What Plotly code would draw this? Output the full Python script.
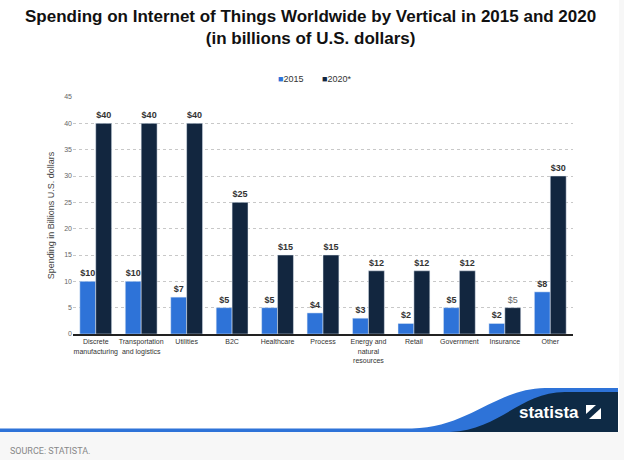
import plotly.graph_objects as go

categories = ["Discrete<br>manufacturing", "Transportation<br>and logistics", "Utilities", "B2C",
              "Healthcare", "Process", "Energy and<br>natural<br>resources", "Retail",
              "Government", "Insurance", "Other"]
values_2015 = [10, 10, 7, 5, 5, 4, 3, 2, 5, 2, 8]
values_2020 = [40, 40, 40, 25, 15, 15, 12, 12, 12, 5, 30]
series_names = ["2015", "2020*"]
colors = ["#2e73d8", "#12263f"]

W, H = 624, 460
L, R, T, B = 73, 51, 97, 126
PW, PH = W - L - R, H - T - B


def px(x):
    return (x - L) / PW


def py(y):
    return (H - B - y) / PH


def lab(v, bold=True):
    return f"<b>${v}</b>" if bold else f"${v}"


text_2015 = [lab(v) for v in values_2015]
text_2020 = [lab(v, bold=(c != "Insurance")) for v, c in zip(values_2020, categories)]
color_2020 = ["#666" if c == "Insurance" else "#333" for c in categories]

fig = go.Figure()
fig.add_trace(go.Bar(x=categories, y=values_2015, name=series_names[0], marker_color=colors[0],
                     text=text_2015, textposition="outside", cliponaxis=False,
                     constraintext="none", textfont=dict(size=9, color="#333"),
                     showlegend=False))
fig.add_trace(go.Bar(x=categories, y=values_2020, name=series_names[1], marker_color=colors[1],
                     text=text_2020, textposition="outside", cliponaxis=False,
                     constraintext="none", textfont=dict(size=9, color=color_2020),
                     showlegend=False))
for i, (n, c) in enumerate(zip(series_names, colors)):
    fig.add_trace(go.Scatter(x=[None], y=[None], mode="markers",
                             name=f'<span style="color:{c}">■</span>{n}',
                             legend="legend" if i == 0 else "legend2",
                             marker=dict(symbol="square", size=6, color="rgba(0,0,0,0)")))

shapes = []
shapes.append(dict(type="rect", xref="paper", yref="paper", x0=px(0), x1=px(W), y0=py(432), y1=py(H),
                   fillcolor="#f7f7f7", line_width=0, layer="below"))
shapes.append(dict(type="rect", xref="paper", yref="paper", x0=px(619), x1=px(W), y0=py(0), y1=py(432),
                   fillcolor="#f7f7f7", line_width=0, layer="below"))


def P(x, y):
    return f"{px(x):.5f},{py(y):.5f}"


blue_path = (f"M{P(0,428.5)} L{P(412,428.5)} C{P(470,427)} {P(495,389)} {P(545,388)} "
             f"L{P(618,388)} L{P(618,432)} L{P(0,432)} Z")
navy_path = (f"M{P(450,432)} C{P(500,430)} {P(520,392)} {P(565,392)} "
             f"L{P(618,392)} L{P(618,432)} Z")
shapes.append(dict(type="path", xref="paper", yref="paper", path=blue_path,
                   fillcolor="#2e73d8", line_width=0))
shapes.append(dict(type="path", xref="paper", yref="paper", path=navy_path,
                   fillcolor="#0e2a45", line_width=0))
# logo icon
shapes.append(dict(type="rect", xref="paper", yref="paper", x0=px(586), x1=px(601), y0=py(419), y1=py(405),
                   fillcolor="white", line_width=0))
icon_path = f"M{P(586,414)} L{P(596,405)} L{P(601,405)} L{P(601,410)} L{P(591,419)} L{P(586,419)} Z"
shapes.append(dict(type="path", xref="paper", yref="paper", path=icon_path,
                   fillcolor="#0e2a45", line_width=0))
shapes.append(dict(type="path", xref="paper", yref="paper",
                   path=f"M{P(589,419)} L{P(601,408)} L{P(601,419)} Z",
                   fillcolor="white", line_width=0))

annotations = [
    dict(text="<b>Spending on Internet of Things Worldwide by Vertical in 2015 and 2020<br>"
              "(in billions of U.S. dollars)</b>",
         xref="paper", yref="paper", x=px(310), y=py(5), xanchor="center", yanchor="top",
         showarrow=False, font=dict(size=17, color="#111")),
    dict(text="<b>statista</b>", xref="paper", yref="paper", x=px(581), y=py(412),
         showarrow=False, font=dict(family="Liberation Sans Narrow, Arial Narrow, sans-serif",
                                     size=17, color="white"), xanchor="right", yanchor="middle"),
    dict(text="SOURCE: STATISTA.", xref="paper", yref="paper", x=px(8), y=py(451),
         showarrow=False, font=dict(family="Roboto, sans-serif", size=9, color="#888"),
         xanchor="left", yanchor="middle"),
]

legend_common = dict(orientation="h", yanchor="middle", y=py(78), xanchor="left",
                     font=dict(size=9, color="#333"), itemwidth=30, bgcolor="rgba(0,0,0,0)")

fig.update_layout(
    width=W, height=H,
    margin=dict(l=L, r=R, t=T, b=B, autoexpand=False),
    paper_bgcolor="white", plot_bgcolor="white",
    font=dict(family="Liberation Sans, Arial, sans-serif", color="#333"),
    barmode="group", bargap=0.3, bargroupgap=0,
    legend=dict(x=px(238), **legend_common),
    legend2=dict(x=px(282), **legend_common),
    xaxis=dict(showline=True, linecolor="#222", linewidth=2, showgrid=False, ticks="",
               tickangle=0, tickfont=dict(size=7, color="#333"), fixedrange=True),
    yaxis=dict(range=[0, 45], dtick=5, showgrid=True, gridcolor="#c8c8c8", griddash="dot",
               gridwidth=1, zeroline=False, showline=False, ticks="",
               tickfont=dict(size=7, color="#666"),
               title=dict(text="Spending in Billions U.S. dollars", font=dict(size=9, color="#444"),
                          standoff=8)),
    shapes=shapes, annotations=annotations,
)

fig.write_html("out.html")
